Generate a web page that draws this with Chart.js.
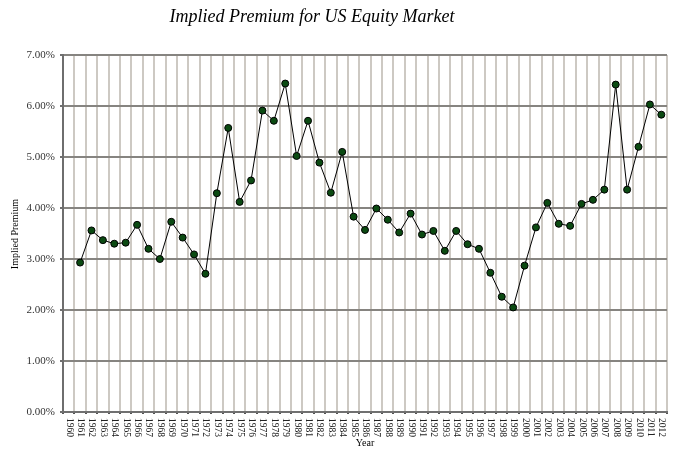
<!DOCTYPE html>
<html>
<head>
<meta charset="utf-8">
<script src="https://cdn.jsdelivr.net/npm/chart.js@4/dist/chart.umd.min.js"></script>
<style>
  html, body { margin: 0; padding: 0; background: #ffffff; }
  #wrap { width: 676px; height: 459px; position: relative; }
</style>
</head>
<body>
<div id="wrap"><canvas id="c" width="676" height="459"></canvas></div>
<script>
const chartTitle = 'Implied Premium for US Equity Market';
const xAxisTitle = 'Year';
const yAxisTitle = 'Implied Premium';

const years = ['1960','1961','1962','1963','1964','1965','1966','1967','1968','1969',
  '1970','1971','1972','1973','1974','1975','1976','1977','1978','1979',
  '1980','1981','1982','1983','1984','1985','1986','1987','1988','1989',
  '1990','1991','1992','1993','1994','1995','1996','1997','1998','1999',
  '2000','2001','2002','2003','2004','2005','2006','2007','2008','2009',
  '2010','2011','2012'];

// Implied equity premium, in percent (1960 has no value)
const impliedPremium = [null, 2.93, 3.56, 3.37, 3.30, 3.32, 3.67, 3.20, 3.00, 3.73,
  3.42, 3.09, 2.71, 4.29, 5.57, 4.12, 4.54, 5.91, 5.71, 6.44,
  5.02, 5.71, 4.89, 4.30, 5.10, 3.83, 3.57, 3.99, 3.77, 3.52,
  3.89, 3.48, 3.55, 3.16, 3.55, 3.29, 3.20, 2.73, 2.26, 2.05,
  2.87, 3.62, 4.10, 3.69, 3.65, 4.08, 4.16, 4.36, 6.42, 4.36,
  5.20, 6.03, 5.83];

const yMin = 0, yMax = 7, yStep = 1;

const SERIF = '"Liberation Serif", "Times New Roman", "DejaVu Serif", serif';

const textPlugin = {
  id: 'textPlugin',
  afterDraw(chart) {
    const ctx = chart.ctx;
    const xs = chart.scales.x;
    const area = chart.chartArea;
    ctx.save();
    // x tick labels, rotated 90deg clockwise
    ctx.fillStyle = '#222';
    ctx.font = '9.5px ' + SERIF;
    ctx.textAlign = 'left';
    ctx.textBaseline = 'middle';
    years.forEach((lab, i) => {
      const x = xs.getPixelForValue(i);
      ctx.save();
      ctx.translate(x + 0.5, area.bottom + 6);
      ctx.rotate(Math.PI / 2);
      ctx.fillText(lab, 0, 0);
      ctx.restore();
    });
    // chart title
    ctx.fillStyle = '#000';
    ctx.font = 'italic 18px ' + SERIF;
    ctx.textAlign = 'center';
    ctx.textBaseline = 'alphabetic';
    ctx.fillText(chartTitle, 312, 22);
    // x axis title
    ctx.font = '10px ' + SERIF;
    ctx.textBaseline = 'middle';
    ctx.fillText(xAxisTitle, (area.left + area.right) / 2, 443);
    // y axis title
    ctx.save();
    ctx.translate(15, 234);
    ctx.rotate(-Math.PI / 2);
    ctx.fillText(yAxisTitle, 0, 0);
    ctx.restore();
    ctx.restore();
  }
};

new Chart(document.getElementById('c'), {
  type: 'line',
  data: {
    labels: years,
    datasets: [{
      data: impliedPremium,
      borderColor: '#000000',
      borderWidth: 1,
      pointRadius: 3.5,
      pointBorderWidth: 1,
      pointBorderColor: '#000000',
      pointBackgroundColor: '#0b4a12',
      tension: 0,
      spanGaps: false
    }]
  },
  options: {
    responsive: false,
    animation: false,
    devicePixelRatio: 1,
    layout: { padding: { top: 55, right: 9, bottom: 0, left: 0 } },
    plugins: {
      legend: { display: false },
      title: { display: false },
      tooltip: { enabled: false }
    },
    scales: {
      x: {
        type: 'category',
        offset: true,
        z: -1,
        afterFit(scale) { scale.height = 47; },
        grid: {
          offset: true,
          color: '#cdc9c3',
          lineWidth: 2,
          drawTicks: true,
          tickLength: 2,
          tickColor: '#555'
        },
        border: { display: true, color: '#707070', width: 2 },
        ticks: { display: false, autoSkip: false }
      },
      y: {
        min: yMin,
        max: yMax,
        afterFit(scale) { scale.width = 63; },
        grid: {
          color: '#868480',
          lineWidth: 2,
          drawTicks: true,
          tickLength: 3,
          tickColor: '#707070'
        },
        border: { display: true, color: '#6e6e6e', width: 2 },
        ticks: {
          stepSize: yStep,
          padding: 5,
          color: '#333',
          font: { family: SERIF, size: 11 },
          callback: (v) => v.toFixed(2) + '%'
        }
      }
    }
  },
  plugins: [textPlugin]
});
</script>
</body>
</html>
